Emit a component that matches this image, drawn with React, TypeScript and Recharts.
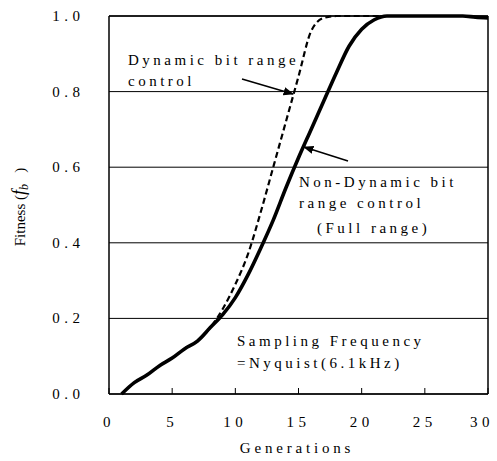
import React from 'react';
import {
  LineChart,
  Line,
  XAxis,
  YAxis,
  CartesianGrid,
  ReferenceLine,
} from 'recharts';

// Generations 1..30, fitness
const generations = [1, 2, 3, 4, 5, 6, 7, 8, 9, 10, 11, 12, 13, 14, 15, 16, 17, 18, 19, 20, 21, 22, 23, 24, 25, 26, 27, 28, 29, 30];
const nonDynamic = [0, 0.03, 0.05, 0.075, 0.095, 0.12, 0.14, 0.175, 0.21, 0.255, 0.315, 0.385, 0.46, 0.545, 0.625, 0.7, 0.775, 0.85, 0.92, 0.965, 0.99, 1.0, 1.0, 1.0, 1.0, 1.0, 1.0, 1.0, 0.997, 0.995];
const dynamic = [0, 0.03, 0.05, 0.075, 0.095, 0.12, 0.14, 0.175, 0.225, 0.29, 0.37, 0.48, 0.6, 0.72, 0.84, 0.96, 0.995, 1.0, 1.0, 1.0, 1.0, 1.0, null, null, null, null, null, null, null, null];
const xTicks = [0, 5, 10, 15, 20, 25, 30];
const yTicks = [0, 0.2, 0.4, 0.6, 0.8, 1.0];

const data = generations.map((g, i) => ({ g, nonDynamic: nonDynamic[i], dynamic: dynamic[i] }));

const serif = 'Liberation Serif, Times New Roman, serif';
const noteStyle: React.CSSProperties = { fontSize: 15, fontFamily: serif, letterSpacing: 3.5 };

// x ticks: short mark pointing up into the plot, spaced-out label below
const XTick = (props: any) => {
  const { x, y, payload } = props;
  return (
    <g>
      <line x1={x} y1={y} x2={x} y2={y - 6} stroke="#000" strokeWidth={1} />
      <text x={payload.value === 30 ? x - 6 : x} y={y + 33} textAnchor="middle" fontSize={15} fontFamily={serif} letterSpacing={4.5} fill="#000">
        {payload.value}
      </text>
    </g>
  );
};

const YTick = (props: any) => {
  const { x, y, payload } = props;
  return (
    <text x={x - 24.5} y={y + 5} textAnchor="end" fontSize={15} fontFamily={serif} letterSpacing={4.5} fill="#000">
      {Number(payload.value).toFixed(1)}
    </text>
  );
};

const App: React.FC = () => {
  return (
    <div style={{ position: 'absolute', left: 0, top: 0, width: 497, height: 461, background: '#fff' }}>
      <LineChart width={497} height={461} data={data} margin={{ top: 16, right: 9, left: 49, bottom: 37 }}>
        <CartesianGrid vertical={false} stroke="#000" strokeWidth={1} />
        <XAxis
          dataKey="g"
          type="number"
          domain={[0, 30]}
          ticks={xTicks}
          interval={0}
          height={30}
          tickSize={0}
          tickMargin={0}
          tickLine={false}
          stroke="#000"
          strokeWidth={1.5}
          tick={<XTick />}
        />
        <YAxis
          type="number"
          domain={[0, 1]}
          ticks={yTicks}
          interval={0}
          width={60}
          tickSize={0}
          tickMargin={0}
          tickLine={false}
          stroke="#000"
          strokeWidth={1.5}
          tick={<YTick />}
        />
        <ReferenceLine x={30} stroke="#000" strokeWidth={1.5} />
        <ReferenceLine y={1} stroke="#000" strokeWidth={1.5} />
        <Line
          dataKey="dynamic"
          type="monotone"
          stroke="#000"
          strokeWidth={2.2}
          strokeDasharray="6 3.5"
          dot={false}
          isAnimationActive={false}
          connectNulls={false}
        />
        <Line
          dataKey="nonDynamic"
          type="monotone"
          stroke="#000"
          strokeWidth={3.6}
          dot={false}
          isAnimationActive={false}
        />
      </LineChart>
      <svg width={497} height={461} style={{ position: 'absolute', left: 0, top: 0, pointerEvents: 'none' }}>
        <defs>
          <marker id="arrow" viewBox="0 0 10 10" refX="9" refY="5" markerWidth="7" markerHeight="7" orient="auto">
            <path d="M0,1 L10,5 L0,9 z" fill="#000" />
          </marker>
        </defs>
        <text x={25} y={207} transform="rotate(-90 25 207)" textAnchor="middle" fontSize={15} fontFamily={serif} fill="#000">
          Fitness (<tspan fontStyle="italic" fontSize={18}>f</tspan>
          <tspan fontStyle="italic" fontSize={12} dy={3}>b</tspan>
          <tspan dy={-3}>{'\u00a0\u00a0\u00a0)'}</tspan>
        </text>
        <text x={297} y={453} textAnchor="middle" style={{ ...noteStyle, letterSpacing: 3.8 }}>Generations</text>
        <text x={128} y={65} style={noteStyle}>Dynamic bit range</text>
        <text x={128} y={86} style={noteStyle}>control</text>
        <text x={299} y={187} style={noteStyle}>Non-Dynamic bit</text>
        <text x={299} y={208} style={noteStyle}>range control</text>
        <text x={317} y={233} style={noteStyle}>(Full range)</text>
        <text x={237} y={346} style={noteStyle}>Sampling Frequency</text>
        <text x={237} y={368} style={noteStyle}>=Nyquist(6.1kHz)</text>
        <line x1={242} y1={79} x2={293} y2={94} stroke="#000" strokeWidth={1.5} markerEnd="url(#arrow)" />
        <line x1={348} y1={161} x2={304} y2={147} stroke="#000" strokeWidth={1.5} markerEnd="url(#arrow)" />
      </svg>
    </div>
  );
};

export default App;
